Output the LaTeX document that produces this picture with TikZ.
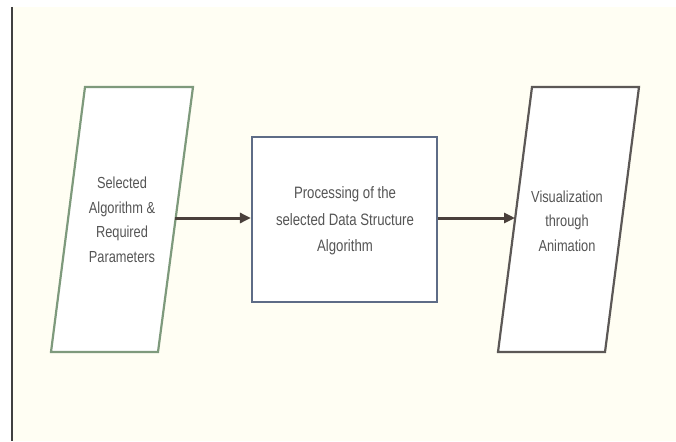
\documentclass[tikz,border=0pt]{standalone}
\usepackage{fontspec}
\setmainfont{Liberation Sans}
\newfontfamily\narrowfont[FakeStretch=0.80]{Liberation Sans}
\usetikzlibrary{arrows.meta}
\definecolor{paper}{HTML}{FFFEF3}
\definecolor{inedge}{HTML}{7E9A7C}
\definecolor{procedge}{HTML}{5E6C86}
\definecolor{outedge}{HTML}{5C5856}
\definecolor{flow}{HTML}{4A403B}
\definecolor{label}{HTML}{555555}
\tikzset{
  shapebox/.style={fill=white, line width=2.2pt, line join=miter},
  flowarrow/.style={draw=flow, line width=3pt,
    -{Triangle[length=11pt,width=10pt]}},
  caption/.style={font=\narrowfont\fontsize{16}{24.5}\selectfont, text=label,
    align=center, inner sep=0pt},
}
\begin{document}
\begin{tikzpicture}[x=1pt,y=-1pt]
  \useasboundingbox (0,0) rectangle (676,441);
  % page backdrop and left margin rule
  \fill[white] (0,0) rectangle (676,441);
  \fill[paper] (12,7) rectangle (676,441);
  \draw[line width=1.2pt, black!75] (12,7) -- (12,441);

  % input parallelogram
  \draw[shapebox, draw=inedge] (85,87) -- (193,87) -- (158,352) -- (51,352) -- cycle;
  \node[caption] (inp) at (122,220) {Selected\\Algorithm \&\\Required\\Parameters};
  \coordinate (inpR) at (175,218);

  % processing box
  \node[shapebox, draw=procedge, minimum width=185pt, minimum height=165pt,
        inner sep=0pt] (proc) at (344.5,219.5) {};
  \node[caption, font=\narrowfont\fontsize{16.5}{26.5}\selectfont] (proctext) at (345,221)
    {Processing of the\\selected Data Structure\\Algorithm};

  % output parallelogram
  \draw[shapebox, draw=outedge] (532,87) -- (639,87) -- (605,352) -- (498,352) -- cycle;
  \node[caption] (out) at (567,221) {Visualization\\through\\Animation};
  \coordinate (outL) at (515,218);

  % flow arrows
  \draw[flowarrow] (inpR) -- (proc.west |- inpR);
  \draw[flowarrow] (proc.east |- outL) -- (outL);
\end{tikzpicture}
\end{document}
